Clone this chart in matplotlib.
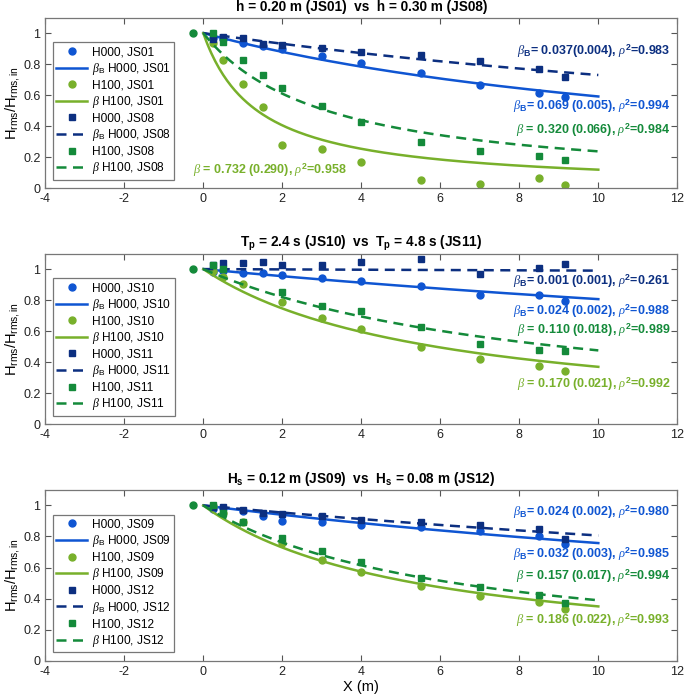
import numpy as np
import matplotlib
matplotlib.use("Agg")
import matplotlib.pyplot as plt

plt.rcParams['font.family'] = ['Liberation Sans', 'DejaVu Sans']
plt.rcParams['mathtext.fontset'] = 'custom'
plt.rcParams['mathtext.rm'] = 'Liberation Sans'
plt.rcParams['mathtext.it'] = 'Liberation Serif:italic'
plt.rcParams['mathtext.bf'] = 'Liberation Sans:bold'
plt.rcParams['axes.unicode_minus'] = False

# gauge positions (m)
xs = [0.25, 0.5, 1, 1.5, 2, 3, 4, 5.5, 7, 8.5, 9.15]
ref_x = [-0.25]
ref_y = [1.0]
nan = np.nan

# panel 1 : h = 0.20 m (JS01) vs h = 0.30 m (JS08)
p1_h000_a = [0.97, 0.96, 0.935, 0.914, 0.897, 0.85, 0.806, 0.746, 0.667, 0.613, 0.587]
p1_h100_a = [0.935, 0.828, 0.671, 0.527, 0.28, 0.252, 0.172, 0.054, 0.026, 0.065, 0.019]
p1_h000_b = [0.96, 0.974, 0.966, 0.929, 0.925, 0.903, 0.875, 0.856, 0.817, 0.77, 0.716]
p1_h100_b = [1.0, 0.94, 0.828, 0.729, 0.647, 0.531, 0.426, 0.301, 0.243, 0.21, 0.183]
p1_beta = [0.069, 0.732, 0.037, 0.320]

# panel 2 : Tp = 2.4 s (JS10) vs Tp = 4.8 s (JS11)
p2_h000_a = [0.98, 0.99, 0.974, 0.978, 0.963, 0.942, 0.924, 0.888, 0.836, 0.836, 0.795]
p2_h100_a = [0.985, 0.952, 0.903, nan, 0.791, 0.688, 0.611, 0.498, 0.418, 0.375, 0.343]
p2_h000_b = [1.024, 1.039, 1.039, 1.043, 1.024, 1.028, 1.045, 1.067, 0.97, 1.01, 1.032]
p2_h100_b = [1.028, 1.0, nan, nan, 0.852, 0.765, 0.732, 0.628, 0.52, 0.477, 0.47]
p2_beta = [0.024, 0.170, 0.001, 0.110]

# panel 3 : Hs = 0.12 m (JS09) vs Hs = 0.08 m (JS12)
p3_h000_a = [0.977, 0.982, 0.961, 0.934, 0.903, 0.893, 0.871, 0.862, 0.834, 0.806, 0.754]
p3_h100_a = [0.998, 0.951, 0.893, nan, 0.757, 0.65, 0.569, 0.478, 0.418, 0.375, 0.332]
p3_h000_b = [0.99, 0.99, 0.972, 0.951, 0.946, 0.935, 0.909, 0.894, 0.873, 0.851, 0.784]
p3_h100_b = [1.005, 0.95, 0.895, nan, 0.79, 0.709, 0.636, 0.532, 0.472, 0.42, 0.371]
p3_beta = [0.032, 0.186, 0.024, 0.157]

titles = [r'h = 0.20 m (JS01)  vs  h = 0.30 m (JS08)',
          r'$\mathbf{T_p}$ = 2.4 s (JS10)  vs  $\mathbf{T_p}$ = 4.8 s (JS11)',
          r'$\mathbf{H_s}$ = 0.12 m (JS09)  vs  $\mathbf{H_s}$ = 0.08 m (JS12)']
runs = [('JS01', 'JS08'), ('JS10', 'JS11'), ('JS09', 'JS12')]

p1_notes = ['0.037(0.004)', '0.069 (0.005)', '0.320 (0.066)', '0.732 (0.290)']
p1_r2 = ['0.983', '0.994', '0.984', '0.958']
p2_notes = ['0.001 (0.001)', '0.024 (0.002)', '0.110 (0.018)', '0.170 (0.021)']
p2_r2 = ['0.261', '0.988', '0.989', '0.992']
p3_notes = ['0.024 (0.002)', '0.032 (0.003)', '0.157 (0.017)', '0.186 (0.022)']
p3_r2 = ['0.980', '0.985', '0.994', '0.993']

blue = '#0f55d2'
dblue = '#0c2f80'
lgreen = '#78b02b'
dgreen = '#148a3a'

panels = [
    (p1_h000_a, p1_h100_a, p1_h000_b, p1_h100_b, p1_beta, p1_notes, p1_r2,
     [0.882, 0.527, 0.376, 0.118], [dblue, blue, dgreen, lgreen]),
    (p2_h000_a, p2_h100_a, p2_h000_b, p2_h100_b, p2_beta, p2_notes, p2_r2,
     [0.92, 0.73, 0.607, 0.26], [dblue, blue, dgreen, lgreen]),
    (p3_h000_a, p3_h100_a, p3_h000_b, p3_h100_b, p3_beta, p3_notes, p3_r2,
     [0.953, 0.6875, 0.543, 0.263], [blue, blue, dgreen, lgreen]),
]

fig = plt.figure(figsize=(6.85, 6.97), dpi=100)
ax_bottoms = [0.7298, 0.3912, 0.0521]
xf = np.linspace(0, 10, 200)

for k, (ha0, ha1, hb0, hb1, beta, notes, r2, ny, ncol) in enumerate(panels):
    ax = fig.add_axes([0.0661, ax_bottoms[k], 0.9227, 0.245])
    ra, rb = runs[k]
    ax.plot(xs, ha0, 'o', color=blue, ms=5, label='H000, ' + ra)
    ax.plot(xf, 1 / (1 + beta[0] * xf), '-', color=blue, lw=1.8,
            label=r'$\beta_\mathrm{B}$ H000, ' + ra)
    ax.plot(xs, ha1, 'o', color=lgreen, ms=5, label='H100, ' + ra)
    ax.plot(xf, 1 / (1 + beta[1] * xf), '-', color=lgreen, lw=1.8,
            label=r'$\beta$ H100, ' + ra)
    ax.plot(xs, hb0, 's', color=dblue, ms=4.2, label='H000, ' + rb)
    ax.plot(xf, 1 / (1 + beta[2] * xf), '--', color=dblue, lw=1.8,
            dashes=(4, 2.6), label=r'$\beta_\mathrm{B}$ H000, ' + rb)
    ax.plot(xs, hb1, 's', color=dgreen, ms=4.2, label='H100, ' + rb)
    ax.plot(xf, 1 / (1 + beta[3] * xf), '--', color=dgreen, lw=1.8,
            dashes=(4, 2.6), label=r'$\beta$ H100, ' + rb)
    ax.plot(ref_x, ref_y, 'o', color=dgreen, ms=5)

    ax.set_xlim(-4, 12)
    ax.set_ylim(0, 1.1)
    ax.set_xticks(np.arange(-4, 13, 2))
    ax.set_yticks([0, 0.2, 0.4, 0.6, 0.8, 1])
    ax.set_yticklabels(['0', '0.2', '0.4', '0.6', '0.8', '1'])
    ax.tick_params(direction='in', top=True, right=True, length=4,
                   labelsize=9, color='#555555', labelcolor='#222222')
    for s in ax.spines.values():
        s.set_color('#777777')
        s.set_linewidth(0.9)
    ax.set_title(titles[k], fontsize=9.8, fontweight='bold', pad=5)
    ax.set_ylabel(r'H$_\mathrm{rms}$/H$_\mathrm{rms,in}$', fontsize=10.5, labelpad=1)

    # fit annotations
    for j in range(4):
        sym = r'$\beta_\mathbf{B}$=' if j < 2 else r'$\beta$ ='
        txt = sym + ' ' + notes[j] + r', $\rho^\mathbf{2}$=' + r2[j]
        if k == 0 and j == 3:
            ax.text(-0.25, ny[j], txt, color=ncol[j], fontsize=9,
                    fontweight='bold', ha='left', va='center')
        else:
            ax.text(11.82, ny[j], txt, color=ncol[j], fontsize=9,
                    fontweight='bold', ha='right', va='center')

    leg = ax.legend(loc='lower left', bbox_to_anchor=(0.0117, 0.0485),
                    fontsize=8.6, labelspacing=0.22, handlelength=2.6,
                    handletextpad=0.4, borderpad=0.3, fancybox=False,
                    framealpha=1, edgecolor='#777777', borderaxespad=0)
    leg.get_frame().set_linewidth(0.9)

ax.set_xlabel('X (m)', fontsize=10.5, labelpad=2)

fig.savefig('out.png', dpi=100)
